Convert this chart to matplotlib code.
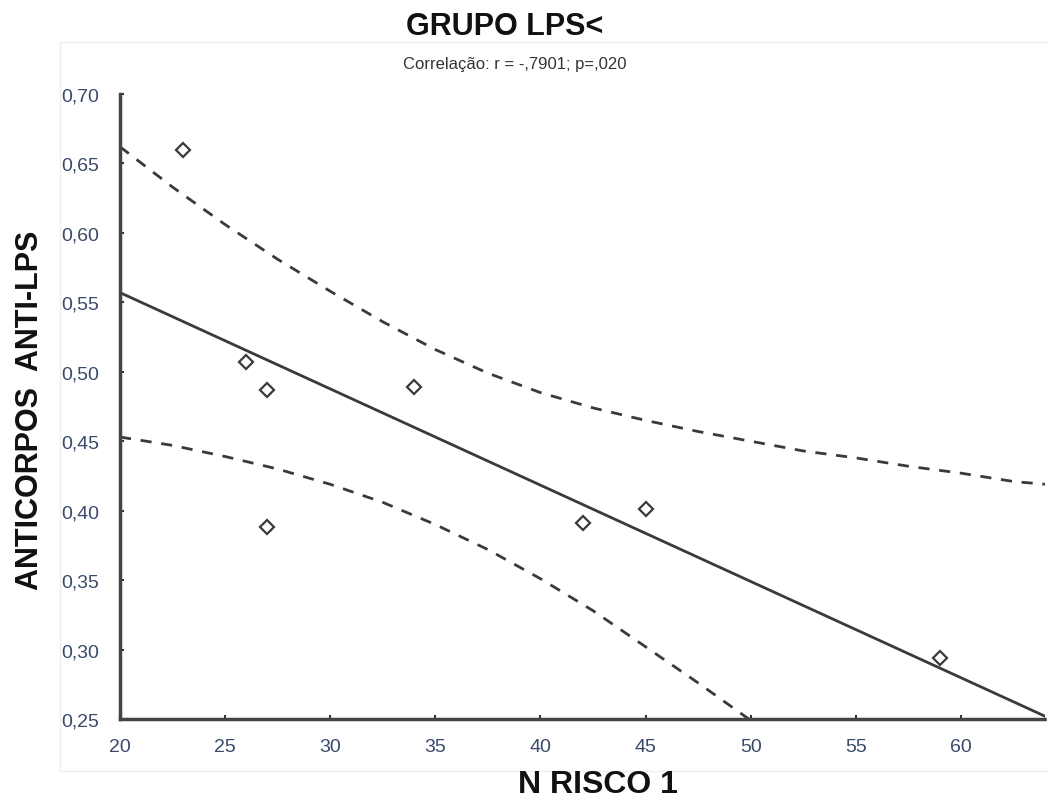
import matplotlib
matplotlib.use("Agg")
import matplotlib.pyplot as plt
from matplotlib.patches import Rectangle

# ---- data ----
n_risco = [23, 26, 27, 27, 34, 42, 45, 59]
anticorpos = [0.660, 0.507, 0.487, 0.388, 0.489, 0.391, 0.401, 0.294]

fit_x = [20, 64]
fit_y = [0.557, 0.252]

upper_x = [20, 22.5, 25, 27.5, 30, 32.5, 35, 37.5, 40, 42.5, 45, 47.5, 50,
           52.5, 55, 57.5, 60, 62.5, 64]
upper_y = [0.662, 0.633, 0.606, 0.581, 0.558, 0.536, 0.516, 0.499, 0.485, 0.474,
           0.465, 0.457, 0.450, 0.443, 0.438, 0.432, 0.427, 0.421, 0.419]

lower_x = [20, 22.5, 25, 27.5, 30, 32.5, 35, 37.5, 40, 42.5, 45, 47.5, 50]
lower_y = [0.453, 0.447, 0.439, 0.430, 0.419, 0.406, 0.390, 0.372, 0.351, 0.328,
           0.302, 0.276, 0.249]

x_ticks = [20, 25, 30, 35, 40, 45, 50, 55, 60]
y_ticks = [0.25, 0.30, 0.35, 0.40, 0.45, 0.50, 0.55, 0.60, 0.65, 0.70]
y_tick_labels = ["0,25", "0,30", "0,35", "0,40", "0,45", "0,50", "0,55", "0,60", "0,65", "0,70"]

title = "GRUPO LPS<"
subtitle = "Correlação: r = -,7901; p=,020"
xlabel = "N RISCO 1"
ylabel = "ANTICORPOS  ANTI-LPS"

plt.rcParams['font.family'] = ['Liberation Sans', 'DejaVu Sans']

W, H = 1047, 803
fig = plt.figure(figsize=(W / 100, H / 100), dpi=100)
fig.patch.set_facecolor('white')

# faint panel border
fig.add_artist(Rectangle((60 / W, 1 - 772 / H), (W - 60) / W, (772 - 43) / H,
                         transform=fig.transFigure, fill=False,
                         edgecolor='#efefef', linewidth=1))

ax = fig.add_axes([120 / W, 1 - 720 / H, (1045 - 120) / W, (720 - 95) / H])
ax.set_xlim(20, 64)
ax.set_ylim(0.25, 0.70)

line_col = '#3a3a3a'
ax.plot(fit_x, fit_y, color=line_col, lw=2.0)
ax.plot(upper_x, upper_y, color=line_col, lw=2.0, dashes=(4, 3.5))
ax.plot(lower_x, lower_y, color=line_col, lw=2.0, dashes=(4, 3.5))
ax.plot(n_risco, anticorpos, linestyle='none', marker='D', markersize=7.5,
        markerfacecolor='white', markeredgecolor=line_col, markeredgewidth=1.6)

for s in ['top', 'right']:
    ax.spines[s].set_visible(False)
for s in ['left', 'bottom']:
    ax.spines[s].set_color('#444444')
    ax.spines[s].set_linewidth(2.5)

ax.set_xticks(x_ticks)
ax.set_xticklabels([str(v) for v in x_ticks])
ax.set_yticks(y_ticks)
ax.set_yticklabels(y_tick_labels)
ax.tick_params(axis='both', direction='in', length=3, width=1.5, color='#333333',
               labelsize=14, labelcolor='#3a4a6a')
ax.tick_params(axis='x', pad=14)
ax.tick_params(axis='y', pad=15)

fig.text(505 / W, 1 - 27 / H, title, ha='center', va='center',
         fontsize=22, fontweight='bold', color='#111111')
fig.text(515 / W, 1 - 64 / H, subtitle, ha='center', va='center',
         fontsize=12, color='#333333')
fig.text(598 / W, 1 - 785 / H, xlabel, ha='center', va='center',
         fontsize=23, fontweight='bold', color='#111111')
fig.text(30 / W, 1 - 410 / H, ylabel, ha='center', va='center', rotation=90,
         fontsize=22, fontweight='bold', color='#111111')

fig.savefig('out.png', dpi=100, facecolor='white')
